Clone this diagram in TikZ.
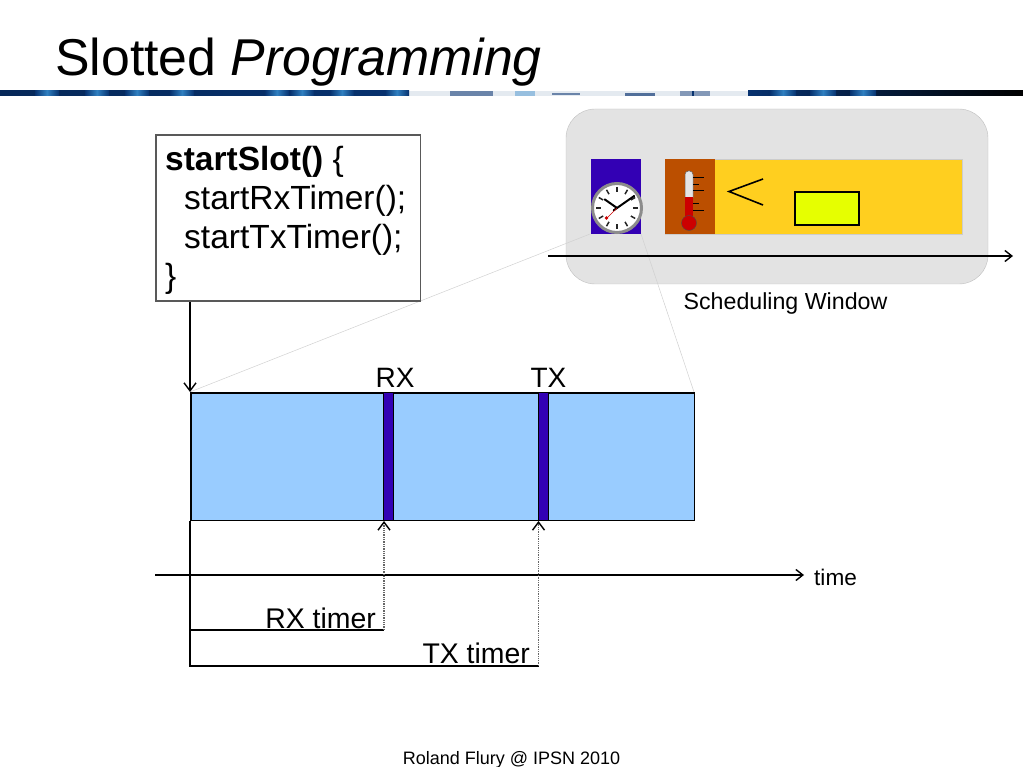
\documentclass[tikz,border=0pt]{standalone}
\usepackage{fontspec}
\setmainfont{Liberation Sans}
\usetikzlibrary{arrows.meta}
\definecolor{slotblue}{HTML}{99CCFF}
\definecolor{slotviolet}{HTML}{3300B4}
\definecolor{windowgray}{HTML}{E3E3E3}
\definecolor{sensebrown}{HTML}{BB4F00}
\definecolor{senseyellow}{HTML}{FFCF1F}
\definecolor{limefill}{HTML}{E6FF00}
\definecolor{bannernavy}{HTML}{07326F}
\definecolor{bannerlight}{HTML}{2F7FC0}
\definecolor{bannerpale}{HTML}{E4EAF0}
\tikzset{
  box/.style={draw, rectangle, inner sep=0pt, minimum width=#1},
  timeline/.style={draw, line width=1.7pt, -{Straight Barb[length=7pt, width=11pt, line width=1.4pt]}},
  guide/.style={draw=black!18, line width=0.5pt},
  timer/.style={draw=black!60, line width=1.3pt, densely dotted, -{Straight Barb[length=8pt, width=12pt, line width=1.4pt, black]}},
  rule/.style={line width=1.8pt},
  label/.style={inner sep=0pt, font=\fontsize{#1}{#1}\selectfont}
}
\begin{document}
\begin{tikzpicture}[x=1pt, y=-1pt]
    \useasboundingbox (0, 0) rectangle (1023, 767);
    % title and banner
    \node[label=51.8, anchor=base west] (title) at (55, 76) {Slotted \textit{Programming}};
    \shade[left color=bannernavy!80!black, right color=bannernavy] (0, 91) rectangle (405, 96);
    \fill[bannerpale] (405, 91) rectangle (748, 96);
    \shade[left color=bannernavy, right color=black] (748, 91) rectangle (1023, 96);
    \foreach \x in {35, 85, 125, 170, 265, 290, 330, 385} {
      \shade[left color=bannernavy, right color=bannernavy, middle color=bannerlight] (\x, 91) rectangle ++(24, 5);
    }
    \foreach \x in {770, 810, 850} {
      \shade[left color=bannernavy, right color=bannernavy, middle color=bannerlight] (\x, 91) rectangle ++(26, 5);
    }
    \fill[bannernavy!60!white] (450, 91) rectangle (493, 96);
    \fill[bannerlight!50!white] (515, 91) rectangle (535, 96);
    \fill[bannernavy!60!white] (552, 93) rectangle (580, 95);
    \fill[bannernavy!70!white] (625, 93) rectangle (655, 96);
    \fill[bannernavy!50!white] (680, 91) rectangle (710, 96);
    \fill[bannernavy] (692, 91) rectangle (694, 96);
    % scheduling window
    \filldraw[windowgray, draw=black!25, rounded corners=29pt] (566, 109) rectangle (988, 284);
    \draw[guide] (190, 392) -- (590, 234);
    \draw[guide] (641, 234) -- (694, 392);
    \node[box=50, minimum height=75, fill=slotviolet, draw=none, anchor=north west] (clockslot) at (591, 159) {};
    \node[box=297, minimum height=75, fill=senseyellow, draw=black!20, anchor=north west] (senseslot) at (665, 159) {};
    \fill[sensebrown] (665, 159) rectangle (715, 234);
    % clock
    \filldraw[white, draw=black!45, line width=3pt] (617, 208) circle (24.5);
    \foreach \a in {0, 30, ..., 330} {
      \draw[black!85, line width=1.5pt] (617, 208) ++(\a:21) -- ++(\a:-5);
    }
    \draw[line width=2pt, line cap=round] (617, 208) -- ++(-145:15);
    \draw[line width=2pt, line cap=round] (617, 208) -- ++(-35:21) (617, 208) -- ++(145:4);
    \draw[red!80!black, line width=0.6pt] (617, 208) -- (607, 218);
    \fill[red!80!black] (606.5, 218) circle (1.8);
    % thermometer
    \filldraw[white!90!black, draw=black!60, line width=0.5pt, rounded corners=3.5pt] (685, 198) -- (685, 171) -- (693, 171) -- (693, 198);
    \fill[red!80!black] (685, 197) rectangle (693, 222);
    \filldraw[red!80!black, draw=black!70, line width=0.4pt] (689, 223) circle (7.5);
    \foreach \y in {177, 190, 210} {
      \draw[line width=0.7pt] (693, \y) -- ++(11, 0);
    }
    \foreach \y in {184, 203} {
      \draw[line width=0.6pt] (693, \y) -- ++(6, 0);
    }
    \draw[line width=1.6pt] (763, 179) -- (729, 191.5) -- (763, 205);
    \node[box=64, minimum height=33, fill=limefill, line width=1.6pt, anchor=north west] (limit) at (794, 191) {};
    \coordinate (windowstart) at (548, 256);
    \coordinate (windowend) at (1013, 256);
    \draw[timeline] (windowstart) -- (windowend);
    \node[label=23.2, anchor=base] (windowlabel) at (785.5, 310) {Scheduling Window};
    % code box
    \node[draw=black!65, fill=white, line width=1.7pt, anchor=north west, minimum width=264.5, minimum height=166.5, inner sep=0pt] (code) at (155, 134) {};
    \node[label=33.5, anchor=base west] (line1) at (165, 171) {\textbf{startSlot()} \{};
    \node[label=33.5, anchor=base west] (line2) at (184, 210) {startRxTimer();};
    \node[label=33.5, anchor=base west] (line3) at (184, 249) {startTxTimer();};
    \node[label=33.5, anchor=base west] (line4) at (165, 288) {\}};
    % slot
    \node[box=503.5, minimum height=127.5, fill=slotblue, line width=1.8pt, anchor=north west] (slot) at (190, 392) {};
    \node[box=10, minimum height=128, fill=slotviolet, line width=0.6pt, anchor=north west] (rxslot) at (383, 392) {};
    \node[box=10, minimum height=128, fill=slotviolet, line width=0.6pt, anchor=north west] (txslot) at (538, 392) {};
    \node[label=28, anchor=base] (rxlabel) at (395, 388) {RX};
    \node[label=28, anchor=base] (txlabel) at (548.5, 388) {TX};
    \draw[line width=1.5pt, -{Straight Barb[length=8pt, width=12pt, line width=1.4pt]}] (code.south west -| slot.north west) -- (slot.north west);
    % timers
    \coordinate (timestart) at (155, 575);
    \coordinate (timeend) at (804, 575);
    \draw[timeline] (timestart) -- (timeend);
    \node[label=22.6, anchor=base west] (timelabel) at (814, 585) {time};
    \coordinate (rxfoot) at (384, 630);
    \coordinate (txfoot) at (538.5, 666);
    \draw[rule] (slot.south west) -- (slot.south west |- txfoot) -- (txfoot);
    \draw[rule] (slot.south west |- rxfoot) -- (rxfoot);
    \draw[timer] (rxfoot) -- (384, 521);
    \draw[timer] (txfoot) -- (538.5, 521);
    \node[label=28.4, anchor=base east] (rxtimer) at (376, 628.5) {RX timer};
    \node[label=28.4, anchor=base east] (txtimer) at (530, 663) {TX timer};
    % footer
    \node[label=18, anchor=base] (footer) at (511.5, 764) {Roland Flury @ IPSN 2010};
\end{tikzpicture}
\end{document}
